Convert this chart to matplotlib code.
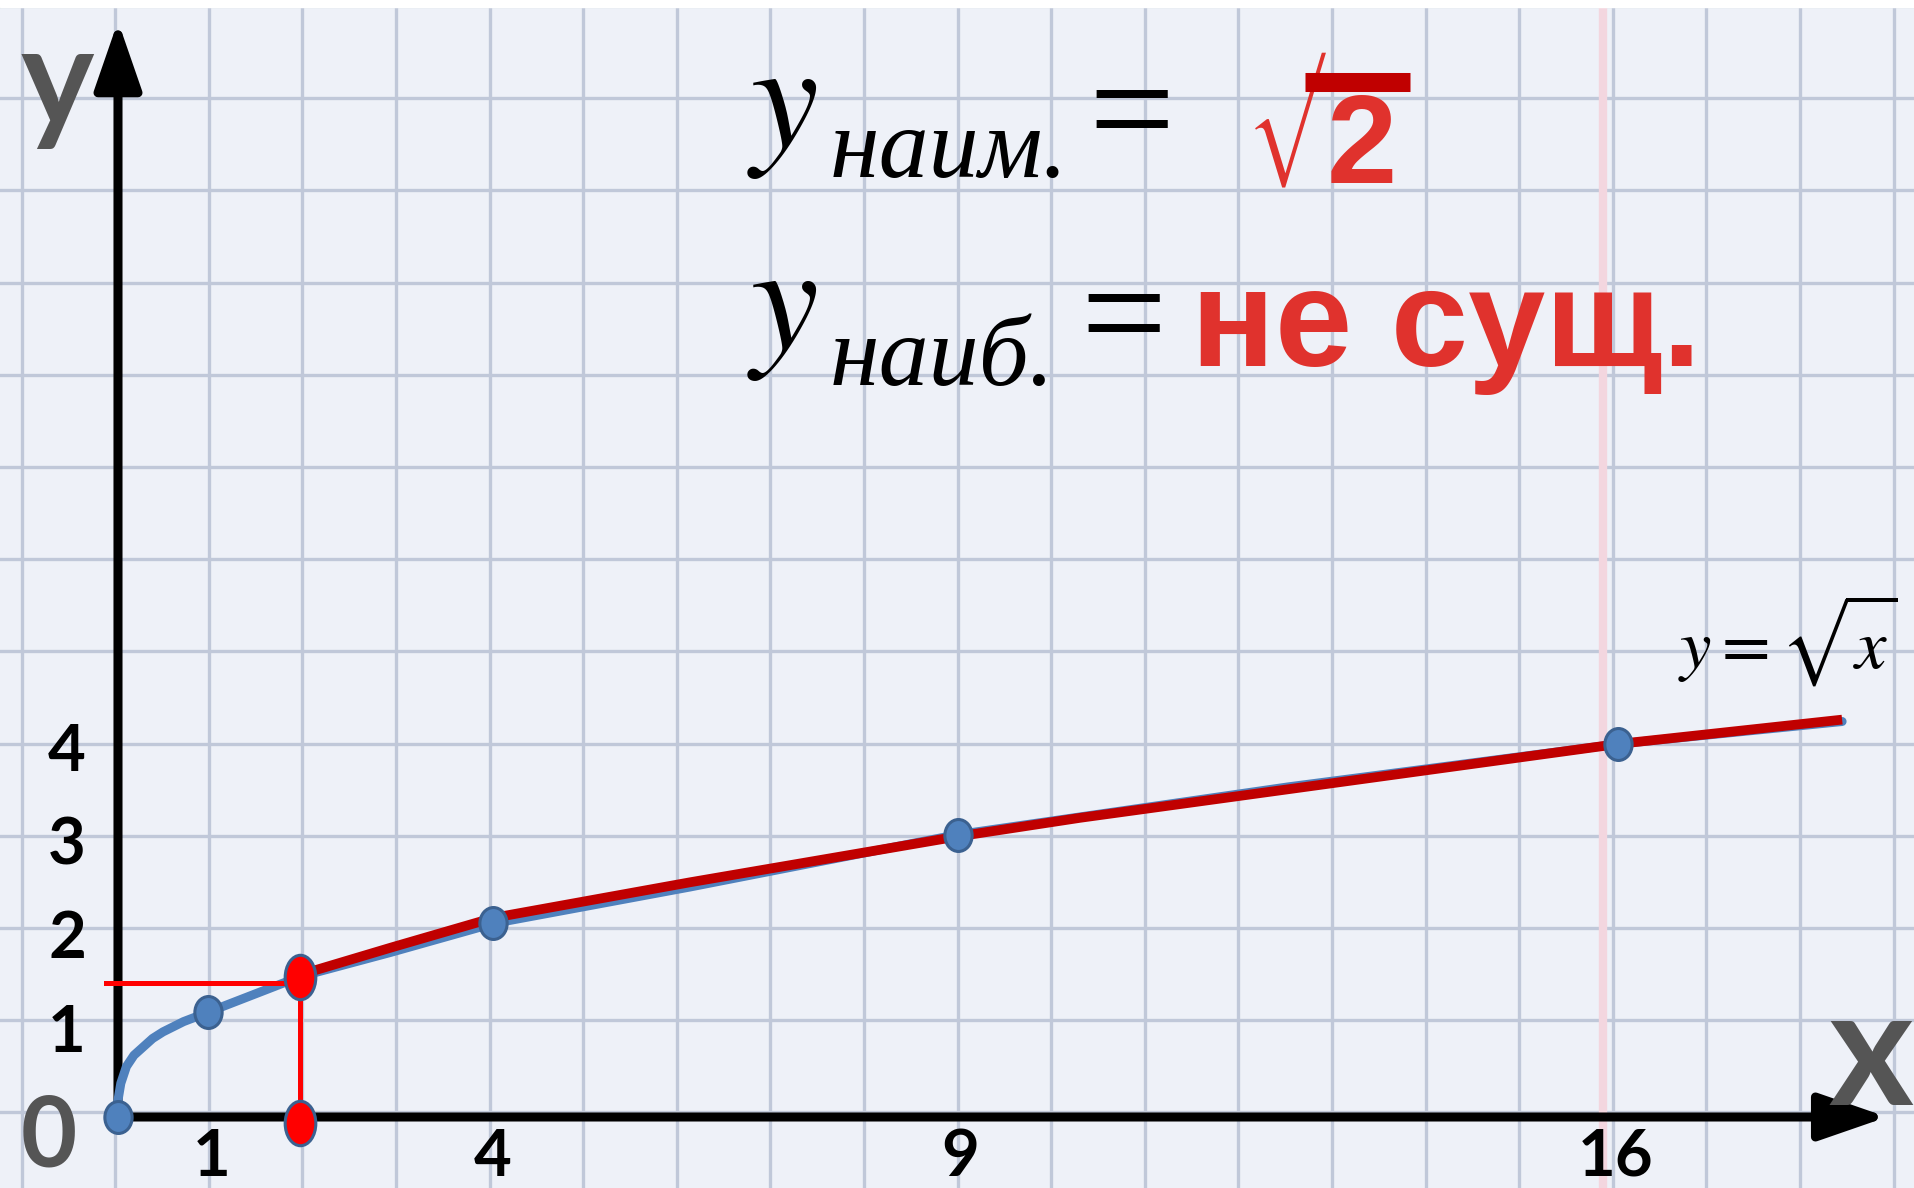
import numpy as np
import matplotlib
matplotlib.use('Agg')
import matplotlib.pyplot as plt
from matplotlib.path import Path
from matplotlib.transforms import Affine2D
from matplotlib.textpath import TextPath
from matplotlib.font_manager import FontProperties

# y = sqrt(x) as it is drawn on the slide
curve_x = [0.0, 0.0, 0.03, 0.09, 0.17, 0.27, 0.37, 0.48, 0.70, 0.96, 1.94,
           2.91, 4.01, 6.11, 8.97, 12.5, 16.03, 18.42]
curve_y = [0.0, 0.18, 0.36, 0.54, 0.66, 0.75, 0.84, 0.91, 1.02, 1.12, 1.50,
           1.76, 2.07, 2.46, 3.02, 3.53, 3.99, 4.23]

# highlighted part of the curve (x >= 2)
part_x = [1.94, 2.91, 4.01, 6.11, 8.97, 10.28, 16.03, 18.42]
part_y = [1.52, 1.81, 2.13, 2.51, 3.00, 3.20, 3.99, 4.25]

# marked points on the curve
dot_x = [0.0, 0.96, 4.01, 8.97, 16.03]
dot_y = [0.0, 1.12, 2.07, 3.02, 3.99]

# left end of the interval: x = 2, y = sqrt(2)
end_x = [1.94, 1.94]
end_y = [1.50, -0.06]
guide_x = [-0.13, 1.94]
guide_y = [1.43, 1.43]

x_ticks = [1, 4, 9, 16]
x_tick_labels = ['1', '4', '9', '16']
y_ticks = [1, 2, 3, 4]
y_tick_labels = ['1', '2', '3', '4']

W, H = 1915, 1188
X0, Y0 = 118, 1117      # origin, pixels
UX, UY = 93.6, 93.5     # pixels per unit


def d(px, py):
    # pixel position on the slide -> data coordinates
    return (px - X0) / UX, (Y0 - py) / UY


plt.rcParams['mathtext.fontset'] = 'stix'

fig = plt.figure(figsize=(W / 100, H / 100), dpi=100)
fig.patch.set_facecolor('#eef1f8')
ax = fig.add_axes([0, 0, 1, 1])
ax.set_xlim(-X0 / UX, (W - X0) / UX)
ax.set_ylim(-(H - Y0) / UY, Y0 / UY)
ax.axis('off')

# squared paper
for gx in np.arange(-1, 21) - 0.03:
    ax.axvline(gx, color='#c0c8d9', lw=2.4, zorder=0)
for gy in np.arange(0, 13) * 0.986 + 0.05:
    ax.axhline(gy, color='#c0c8d9', lw=2.4, zorder=0)
ax.axvline(15.87, color='#f3d6df', lw=6, zorder=0.5)
ax.axhspan(11.87, 13, color='white', zorder=0.6)

# axes with arrows
arrow = dict(arrowstyle='-|>,head_length=2.6,head_width=0.9', color='black',
             lw=6.5, shrinkA=0, shrinkB=0, mutation_scale=16)
ax.annotate('', xy=(18.9, 0), xytext=(0, 0), arrowprops=arrow, zorder=2)
ax.annotate('', xy=(0, 11.72), xytext=(0, 0), arrowprops=arrow, zorder=2)

# curve
ax.plot(curve_x, curve_y, color='#4f81bd', lw=6.5, solid_capstyle='round',
        solid_joinstyle='round', zorder=3)
ax.plot(part_x, part_y, color='#c00000', lw=7, solid_capstyle='butt', zorder=4)

# guide lines to x = 2
ax.plot(guide_x, guide_y, color='#ff0000', lw=3.6, zorder=3.5)
ax.plot(end_x, end_y, color='#ff0000', lw=3.6, zorder=3.5)

blue_dot = Path.unit_circle().transformed(Affine2D().scale(1, 1.17))
red_dot = Path.unit_circle().transformed(Affine2D().scale(1, 1.45))
ax.plot(dot_x, dot_y, ls='none', marker=blue_dot, ms=23, mfc='#4f81bd',
        mec='#3b6190', mew=2.2, zorder=5)
ax.plot(end_x, end_y, ls='none', marker=red_dot, ms=32, mfc='#ff0000',
        mec='#3b6190', mew=2.2, zorder=5)

# tick labels
for x, lab in zip(x_ticks, x_tick_labels):
    ax.text(x, -0.63, lab, ha='center', va='baseline', fontsize=47,
            fontweight='bold', family='Lato', color='black', zorder=6)
for y, lab in zip(y_ticks, y_tick_labels):
    ax.text(-0.545, y - 0.3, lab, ha='center', va='baseline', fontsize=47,
            fontweight='bold', family='Lato', color='black', zorder=6)
ax.text(-0.74, -0.53, '0', ha='center', va='baseline', fontsize=70,
        fontweight='bold', family='Lato', color='#555555', zorder=6)
ax.text(-0.65, 10.6, 'y', ha='center', va='baseline', fontsize=100,
        fontweight='bold', family='Lato', color='#555555', zorder=6)
ax.text(18.73, 0.13, 'x', ha='center', va='baseline', fontsize=117,
        fontweight='bold', family='Lato', color='#555555', zorder=6)

ax.text(*d(1678, 669), r'$y=\sqrt{x}$', fontsize=51, ha='left', va='baseline')

# y min / y max
red = '#e0322d'
ax.text(*d(747, 147), r'$y$', fontsize=110, ha='left', va='baseline')
ax.text(*d(830, 177), 'наим.', family='Liberation Serif', style='italic',
        fontsize=72, ha='left', va='baseline')
ax.text(*d(1132, 160), '=', family='Liberation Serif', fontsize=110,
        ha='center', va='baseline')

# tall thin radical sign: size it so its ink spans y 53..187 px, x from 1255 px
rad_prop = FontProperties(family='STIXSizeOneSym')
ext = TextPath((0, 0), '√', size=100, prop=rad_prop).get_extents()
rad_size = 100 * (134 * 0.72) / ext.height
k = rad_size / 100 / 0.72           # glyph units (pt at size 100) -> pixels
ax.text(*d(1255 - ext.x0 * k, 187 + ext.y0 * k), '√', family='STIXSizeOneSym',
        fontsize=rad_size, color=red, ha='left', va='baseline')
ax.text(*d(1327, 183), '2', family='Liberation Sans', fontweight='bold',
        fontsize=91, color=red, ha='left', va='baseline')
bar_l, bar_y = d(1305, 82)
bar_r, _ = d(1410, 82)
ax.plot([bar_l, bar_r], [bar_y, bar_y], color='#c00000', lw=13.7,
        solid_capstyle='butt', zorder=6)

ax.text(*d(747, 349), r'$y$', fontsize=110, ha='left', va='baseline')
ax.text(*d(830, 385), 'наиб.', family='Liberation Serif', style='italic',
        fontsize=72, ha='left', va='baseline')
ax.text(*d(1124, 364), '=', family='Liberation Serif', fontsize=110,
        ha='center', va='baseline')
ax.text(*d(1191, 366), 'не сущ.', family='Liberation Sans', fontweight='bold',
        fontsize=100, color=red, ha='left', va='baseline')

fig.savefig('out.png', dpi=100, facecolor=fig.get_facecolor())
